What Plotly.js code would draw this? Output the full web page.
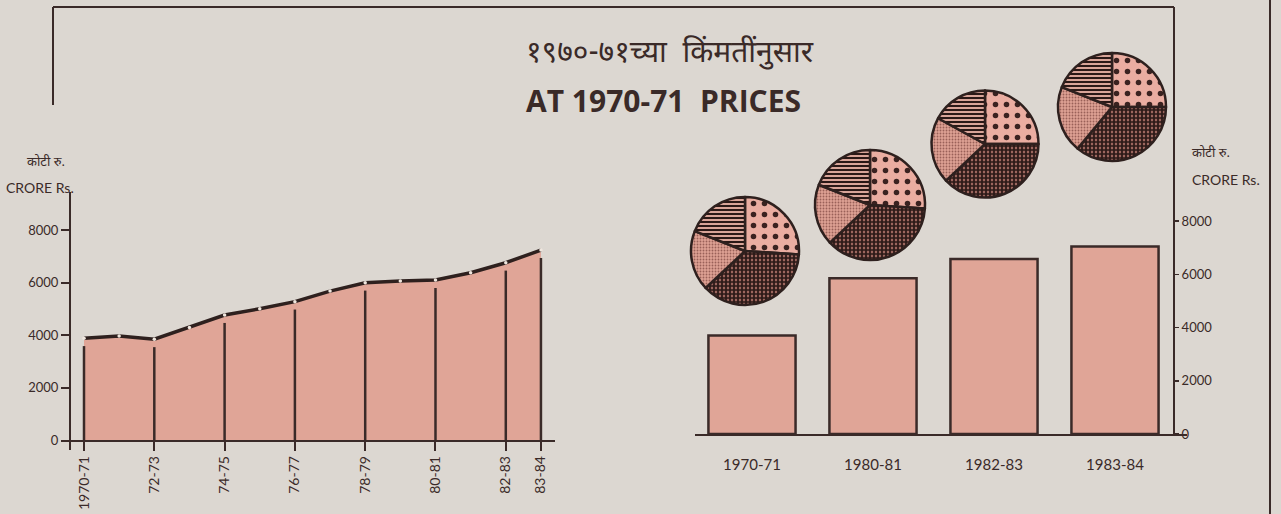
<!DOCTYPE html>
<html>
<head>
<meta charset="utf-8">
<script src="https://cdn.plot.ly/plotly-3.0.1.min.js"></script>
<style>
  html, body { margin: 0; padding: 0; background: #dcd7d1; }
  #chart { width: 1281px; height: 514px; }
</style>
</head>
<body>
<div id="chart"></div>
<script>
// ---------- data ----------
const years = ['1970-71','71-72','72-73','73-74','74-75','75-76','76-77','77-78','78-79','79-80','80-81','81-82','82-83','83-84'];
const income = [3890, 3970, 3850, 4300, 4770, 5010, 5280, 5680, 6000, 6065, 6100, 6380, 6760, 7240];
const tickYears = ['1970-71','72-73','74-75','76-77','78-79','80-81','82-83','83-84'];
const barYears = ['1970-71','1980-81','1982-83','1983-84'];
const barIncome = [3700, 5860, 6580, 7050];
const sectorNames = ['Sector A','Sector B','Sector C','Sector D'];
const pieShares = [
  [26, 37, 18, 19],
  [26, 37, 18, 19],
  [25, 38, 20, 17],
  [25, 36, 20, 19]
];
const yTicks = [0, 2000, 4000, 6000, 8000];
const unitMr = 'कोटी रु.';
const unitEn = 'CRORE Rs.';
const titleMr = '१९७०-७१च्या  किंमतींनुसार';
const titleEn = 'AT 1970-71  PRICES';

// ---------- style ----------
const W = 1281, H = 514;
const px = x => x / W;
const py = y => 1 - y / H;
const INK = '#3a2a28';
const PINK = '#e0a597';
const BG = '#dcd7d1';
const FONT = 'Lato, "Open Sans", sans-serif';
const BOLD = '"Open Sans", Lato, sans-serif';
const DEVA = '"Noto Sans Devanagari", "Lohit Devanagari", "Noto Sans", sans-serif';
const DROP_GAP = 300;

// drop lines from data
const dropX = [], dropY = [];
tickYears.forEach(t => {
  const v = income[years.indexOf(t)];
  dropX.push(t, t, null);
  dropY.push(0, v - DROP_GAP, null);
});

const traces = [];
traces.push({
  type: 'scatter', x: years, y: income, xaxis: 'x', yaxis: 'y',
  mode: 'lines', fill: 'tozeroy', fillcolor: PINK,
  line: { color: '#2e201e', width: 3.5 }, hoverinfo: 'skip', showlegend: false
});
traces.push({
  type: 'scatter', x: dropX, y: dropY, xaxis: 'x', yaxis: 'y',
  mode: 'lines', line: { color: INK, width: 2.5 }, hoverinfo: 'skip', showlegend: false
});
traces.push({
  type: 'scatter', x: years, y: income, xaxis: 'x', yaxis: 'y',
  mode: 'markers', marker: { color: '#efe6de', size: 3.5 }, hoverinfo: 'skip', showlegend: false
});
traces.push({
  type: 'bar', x: barYears, y: barIncome, xaxis: 'x2', yaxis: 'y2',
  width: 0.72, marker: { color: PINK, line: { color: INK, width: 2.5 } },
  hoverinfo: 'skip', showlegend: false
});

// pies
const pieCenters = [[745, 251, 108], [870, 205, 110], [985, 144, 107], [1112, 107, 108]];
pieShares.forEach((vals, i) => {
  const [cx, cy, d] = pieCenters[i];
  const r = d / 2;
  traces.push({
    type: 'pie', values: vals, labels: sectorNames, sort: false,
    direction: 'clockwise', rotation: 0, textinfo: 'none', hoverinfo: 'skip',
    showlegend: false,
    domain: { x: [px(cx - r), px(cx + r)], y: [py(cy + r), py(cy - r)] },
    marker: {
      colors: ['#e8ab9f', '#6a4541', '#d09084', '#c99a90'],
      line: { color: '#2e201e', width: 2.5 },
      pattern: {
        shape: ['.', '+', '.', '-'],
        size: [11, 4, 3, 4],
        solidity: [0.2, 0.68, 0.3, 0.5],
        fgcolor: ['#3a2220', '#2a1816', '#9a6058', '#2a1816'],
        bgcolor: ['#eaada1', '#9c665e', '#dea194', '#d8a498'],
        fillmode: 'replace'
      }
    }
  });
});

const layout = {
  width: W, height: H,
  margin: { l: 0, r: 0, t: 0, b: 0 },
  paper_bgcolor: BG, plot_bgcolor: 'rgba(0,0,0,0)',
  font: { family: FONT, color: INK, size: 13 },
  showlegend: false,
  xaxis: {
    domain: [px(62), px(555)], anchor: 'free', position: py(440.5),
    type: 'category', categoryorder: 'array', categoryarray: years,
    range: [-0.626, 13.4], showline: true, linecolor: INK, linewidth: 2,
    ticks: 'outside', ticklen: 9, tickwidth: 2, tickcolor: INK,
    tickvals: tickYears, ticktext: tickYears, tickangle: -90,
    tickfont: { size: 14, family: FONT, color: INK },
    showgrid: false, zeroline: false, fixedrange: true
  },
  yaxis: {
    domain: [py(450), py(192)], range: [-361, 9449], anchor: 'free', position: px(70),
    showline: true, linecolor: INK, linewidth: 2,
    ticks: 'outside', ticklen: 8, tickwidth: 2, tickcolor: INK,
    tickvals: yTicks, tickfont: { size: 13, family: FONT, color: INK },
    showgrid: false, zeroline: false, fixedrange: true
  },
  xaxis2: {
    domain: [px(695), px(1187)], anchor: 'y2', type: 'category',
    categoryorder: 'array', categoryarray: barYears,
    range: [-0.471, 3.595], showline: true, linecolor: INK, linewidth: 2,
    ticks: '', ticklabelstandoff: 16,
    tickfont: { size: 15, family: FONT, color: INK },
    showgrid: false, zeroline: false, fixedrange: true
  },
  yaxis2: {
    domain: [py(434), py(7)], range: [0, 16053], anchor: 'free', position: px(1174),
    side: 'right', showline: true, linecolor: INK, linewidth: 2,
    ticks: 'outside', ticklen: 4, tickwidth: 1.5, tickcolor: INK,
    tickvals: yTicks, tickfont: { size: 13, family: FONT, color: INK },
    showgrid: false, zeroline: false, fixedrange: true
  },
  shapes: [
    { type: 'line', xref: 'paper', yref: 'paper', x0: px(53), x1: px(1174), y0: py(7), y1: py(7), line: { color: INK, width: 2 } },
    { type: 'line', xref: 'paper', yref: 'paper', x0: px(53), x1: px(53), y0: py(7), y1: py(105), line: { color: INK, width: 2 } },
    { type: 'line', xref: 'paper', yref: 'paper', x0: px(1270), x1: px(1270), y0: py(0), y1: py(514), line: { color: INK, width: 2 } }
  ],
  annotations: [
    { xref: 'paper', yref: 'paper', x: px(670), y: py(55), text: titleMr, showarrow: false, xanchor: 'center', yanchor: 'middle', font: { family: DEVA, size: 30, color: INK } },
    { xref: 'paper', yref: 'paper', x: px(663), y: py(101), text: '<b>' + titleEn + '</b>', showarrow: false, xanchor: 'center', yanchor: 'middle', font: { family: BOLD, size: 30, color: INK } },
    { xref: 'paper', yref: 'paper', x: px(46), y: py(162), text: unitMr, showarrow: false, xanchor: 'center', yanchor: 'middle', font: { family: DEVA, size: 13, color: INK } },
    { xref: 'paper', yref: 'paper', x: px(40), y: py(187), text: unitEn, showarrow: false, xanchor: 'center', yanchor: 'middle', font: { family: FONT, size: 14, color: INK } },
    { xref: 'paper', yref: 'paper', x: px(1211), y: py(153), text: unitMr, showarrow: false, xanchor: 'center', yanchor: 'middle', font: { family: DEVA, size: 13, color: INK } },
    { xref: 'paper', yref: 'paper', x: px(1226), y: py(179), text: unitEn, showarrow: false, xanchor: 'center', yanchor: 'middle', font: { family: FONT, size: 14, color: INK } }
  ]
};

Plotly.newPlot('chart', traces, layout, { displayModeBar: false, staticPlot: true });
</script>
</body>
</html>
